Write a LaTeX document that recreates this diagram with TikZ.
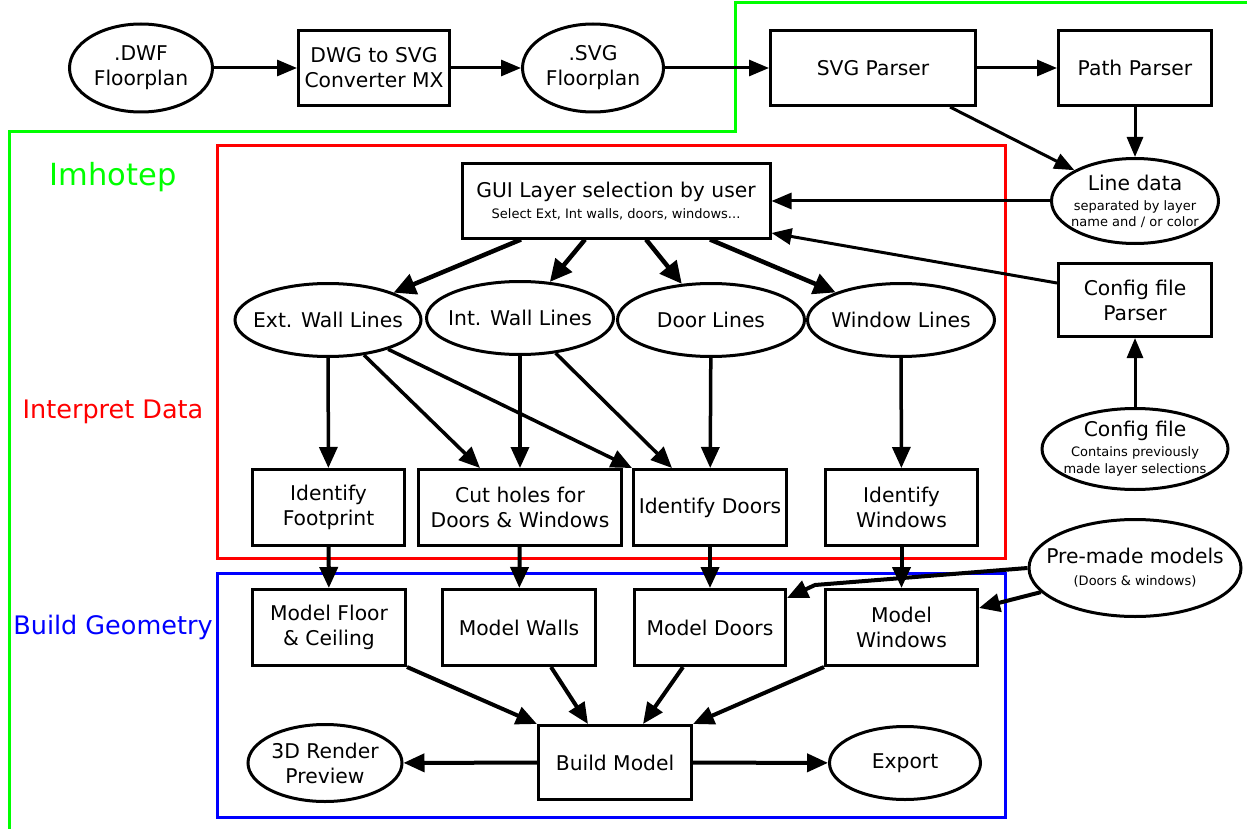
\documentclass[tikz,border=0pt]{standalone}
\usepackage{fontspec}
\setmainfont{DejaVu Sans}
\usetikzlibrary{shapes.geometric,arrows.meta}
\definecolor{gr}{RGB}{0,255,0}
\definecolor{rd}{RGB}{255,0,0}
\definecolor{bl}{RGB}{0,0,255}
\newcommand\mainf{\fontsize{20.3}{25}\selectfont}
\newcommand\smallf{\fontsize{13}{16}\selectfont}
\begin{document}
\begin{tikzpicture}[x=1pt,y=-1pt,
  box/.style={draw,line width=3pt,rectangle,inner sep=0pt,align=center,font=\mainf},
  ell/.style={draw,line width=3pt,ellipse,inner xsep=-30pt,inner ysep=0pt,align=center,font=\mainf},
  arrA/.style={-{Triangle[length=20pt,width=16pt]},line width=3pt},
  arrT/.style={-{Triangle[length=22pt,width=21pt]},line width=4.5pt},
  arrM/.style={-{Triangle[length=21pt,width=18pt]},line width=3.5pt},
  arrB/.style={-{Triangle[length=21pt,width=18pt]},line width=4pt},
  frame/.style={line width=3pt},
  lab/.style={font=\fontsize{25.5}{30}\selectfont}]
\useasboundingbox (0,0) rectangle (1247,829);
% frames
\draw[frame,gr] (9,829) -- (9,132) -- (735,132) -- (735,3) -- (1247,3);
\draw[frame,rd] (217,146) rectangle (1005,558);
\draw[frame,bl] (217,573) rectangle (1005,817);
\node[font=\fontsize{30.5}{36}\selectfont,text=gr] (limh) at (113,177) {Imhotep};
\node[lab,text=rd] (lint) at (113,412) {Interpret Data};
\node[lab,text=bl] (lbuild) at (113,627) {Build Geometry};
% top row
\node[ell,minimum width=143,minimum height=88] (dwf) at (141,68) {.DWF\\Floorplan};
\node[box,minimum width=151,minimum height=75] (dwg) at (374,68) {DWG to SVG\\Converter MX};
\node[ell,minimum width=141,minimum height=88] (svg) at (593,68) {.SVG\\Floorplan};
\node[box,minimum width=205,minimum height=75] (svgp) at (873,68) {SVG Parser};
\node[box,minimum width=153,minimum height=75] (pathp) at (1135,68) {Path Parser};
\node[ell,minimum width=167,minimum height=85] (line) at (1135,201) {Line data\\[-5pt]\smallf separated by layer\\[-9pt]\smallf name and / or color};
\node[box,minimum width=308,minimum height=74] (gui) at (616,201) {GUI Layer selection by user\\[-4pt]\smallf Select Ext, Int walls, doors, windows...};
\node[box,minimum width=153,minimum height=73] (cfgp) at (1135,300) {Config file\\Parser};
\node[ell,minimum width=186,minimum height=81] (cfg) at (1135,449) {Config file\\[-5pt]\smallf Contains previously\\[-8pt]\smallf made layer selections};
\node[ell,minimum width=212,minimum height=97] (pm) at (1135,568) {Pre-made models\\[-3pt]\fontsize{13}{16}\selectfont (Doors \& windows)};
% line ellipses
\node[ell,minimum width=186,minimum height=73] (ext) at (328,320) {Ext. Wall Lines};
\node[ell,minimum width=187,minimum height=73] (int) at (520,318) {Int. Wall Lines};
\node[ell,minimum width=187,minimum height=73] (door) at (711,320) {Door Lines};
\node[ell,minimum width=187,minimum height=73] (win) at (901,320) {Window Lines};
% identify boxes
\node[box,minimum width=152,minimum height=76] (fp) at (328.5,507.5) {Identify\\Footprint};
\node[box,minimum width=203,minimum height=76] (cut) at (520,507.5) {Cut holes for\\Doors \& Windows};
\node[box,minimum width=153,minimum height=76] (idd) at (710,507.5) {Identify Doors};
\node[box,minimum width=152,minimum height=76] (idw) at (901.5,507.5) {Identify\\Windows};
% model boxes
\node[box,minimum width=153,minimum height=76] (mfc) at (329,627.5) {Model Floor\\\& Ceiling};
\node[box,minimum width=153,minimum height=76] (mw) at (519,627.5) {Model Walls};
\node[box,minimum width=151,minimum height=76] (mdoor) at (710,627.5) {Model Doors};
\node[box,minimum width=152,minimum height=76] (mwin) at (901.5,627.5) {Model\\Windows};
\node[box,minimum width=153,minimum height=74] (build) at (615,762.5) {Build Model};
\node[ell,minimum width=154,minimum height=77] (r3d) at (325,763) {3D Render\\Preview};
\node[ell,minimum width=151,minimum height=73] (exp) at (905,763) {Export};
% connectors top
\draw[arrA] (dwf) -- (dwg);
\draw[arrA] (dwg) -- (svg);
\draw[arrA] (svg) -- (svgp);
\draw[arrA] (svgp) -- (pathp);
\draw[arrA] (pathp) -- (line);
\draw[arrA] ([xshift=-27pt]svgp.south east) -- (line);
\draw[arrA] (line) -- (gui);
\draw[arrA] ([yshift=17pt]cfgp.west) -- ([yshift=-32pt]gui.east);
\draw[arrA] (cfg) -- (cfgp);
% gui fan
\draw[arrT] ([xshift=-95pt]gui.south) -- (ext);
\draw[arrT] ([xshift=-31pt]gui.south) -- (int);
\draw[arrT] ([xshift=30pt]gui.south) -- (door);
\draw[arrT] ([xshift=94pt]gui.south) -- (win);
% middle
\draw[arrM] (ext) -- (fp);
\draw[arrM] (ext) -- ([xshift=-40pt]cut.north);
\draw[arrM] (ext) -- (idd.north west);
\draw[arrM] (int) -- (cut);
\draw[arrM] (int) -- ([xshift=-38pt]idd.north);
\draw[arrM] (door) -- (idd);
\draw[arrM] (win) -- (idw);
% bottom
\draw[arrB] (fp) -- (mfc);
\draw[arrB] (cut) -- (mw);
\draw[arrB] (idd) -- (mdoor);
\draw[arrB] (idw) -- (mwin);
\coordinate (bend) at (815,585);
\draw[arrB] (pm.west) -- (bend) -- ([yshift=-10pt]mdoor.north east);
\draw[arrB] (pm) -- ([yshift=-20pt]mwin.north east);
\draw[arrB] (mfc.south east) -- (build.north west);
\draw[arrB] ([xshift=32pt]mw.south) -- ([xshift=-27pt]build.north);
\draw[arrB] ([xshift=-27pt]mdoor.south) -- ([xshift=28pt]build.north);
\draw[arrB] (mwin.south west) -- (build.north east);
\draw[arrB] (build) -- (r3d);
\draw[arrB] (build) -- (exp);
\end{tikzpicture}
\end{document}
